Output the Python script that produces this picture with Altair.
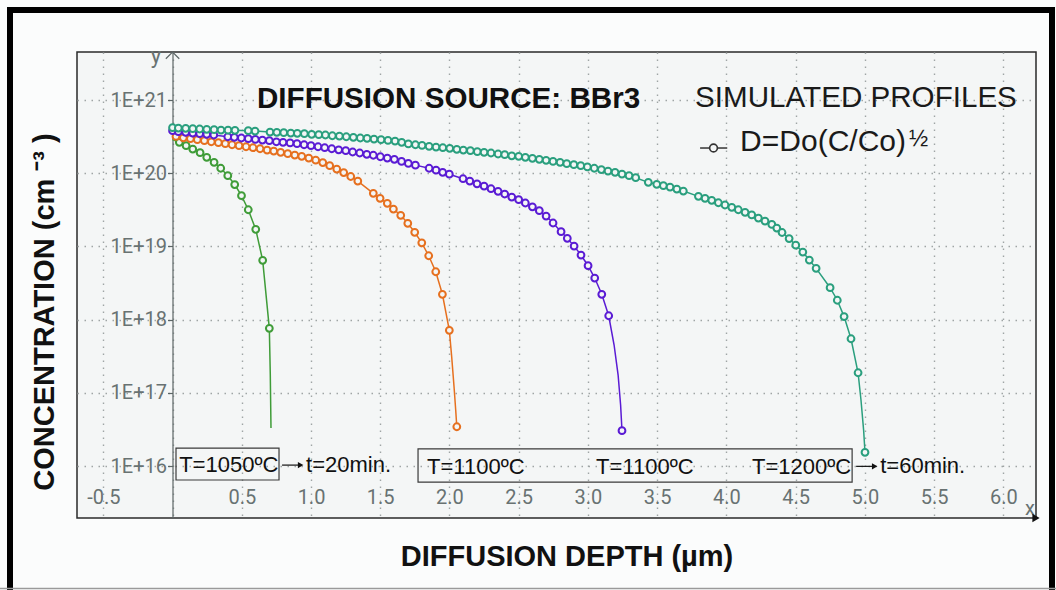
import altair as alt
import pandas as pd

# ---------------- data (depth in µm, concentration in cm^-3) -------------
# T=1200ºC, t=60 min (teal)
teal_x = [0.000, 0.042, 0.095, 0.146, 0.196, 0.247, 0.300, 0.350, 0.401, 0.451,
          0.547, 0.596, 0.704, 0.753, 0.803, 0.854, 0.901, 0.952, 1.005, 1.056,
          1.104, 1.154, 1.205, 1.255, 1.306, 1.356, 1.405, 1.455, 1.506, 1.556,
          1.607, 1.655, 1.703, 1.754, 1.802, 1.853, 1.903, 1.952, 2.002, 2.053,
          2.100, 2.151, 2.201, 2.250, 2.300, 2.351, 2.399, 2.450, 2.500, 2.548,
          2.599, 2.649, 2.698, 2.748, 2.799, 2.847, 2.898, 2.948, 2.996, 3.046,
          3.097, 3.145, 3.196, 3.246, 3.297, 3.345, 3.436, 3.497, 3.545, 3.593,
          3.642, 3.689, 3.798, 3.846, 3.894, 3.942, 3.990, 4.039, 4.086, 4.135,
          4.183, 4.231, 4.279, 4.328, 4.364, 4.402, 4.453, 4.501, 4.552, 4.599,
          4.648, 4.749, 4.801, 4.850, 4.900, 4.951, 5.001]
teal_c = [4.19e20, 4.14e20, 4.11e20, 4.06e20, 4.02e20, 3.98e20, 3.93e20, 3.89e20, 3.87e20, 3.85e20,
          3.81e20, 3.77e20, 3.65e20, 3.62e20, 3.58e20, 3.54e20, 3.51e20, 3.47e20, 3.40e20, 3.36e20,
          3.33e20, 3.25e20, 3.22e20, 3.15e20, 3.09e20, 3.03e20, 3.00e20, 2.93e20, 2.87e20, 2.81e20,
          2.75e20, 2.64e20, 2.51e20, 2.45e20, 2.40e20, 2.33e20, 2.28e20, 2.23e20, 2.19e20, 2.12e20,
          2.07e20, 2.03e20, 1.97e20, 1.93e20, 1.89e20, 1.83e20, 1.79e20, 1.73e20, 1.70e20, 1.65e20,
          1.60e20, 1.55e20, 1.50e20, 1.45e20, 1.41e20, 1.35e20, 1.31e20, 1.27e20, 1.22e20, 1.17e20,
          1.12e20, 1.07e20, 1.03e20, 9.75e19, 9.25e19, 8.69e19, 7.51e19, 7.05e19, 6.75e19, 6.47e19,
          6.08e19, 5.71e19, 4.83e19, 4.54e19, 4.27e19, 3.95e19, 3.68e19, 3.42e19, 3.17e19, 2.92e19,
          2.69e19, 2.44e19, 2.22e19, 2.00e19, 1.78e19, 1.55e19, 1.28e19, 1.04e19, 8.38e18, 6.52e18,
          5.02e18, 2.73e18, 1.84e18, 1.10e18, 5.48e17, 1.88e17, 1.54e16]
teal_line_x = [4.972, 4.991]
teal_line_c = [7.97e16, 3.10e16]

# T=1100ºC (purple)
purple_x = [0.000, 0.042, 0.095, 0.146, 0.196, 0.247, 0.298, 0.399, 0.446, 0.497,
            0.547, 0.598, 0.649, 0.699, 0.750, 0.798, 0.849, 0.899, 0.950, 1.000,
            1.051, 1.099, 1.150, 1.200, 1.251, 1.301, 1.352, 1.403, 1.450, 1.501,
            1.551, 1.602, 1.654, 1.703, 1.754, 1.853, 1.903, 1.951, 1.999, 2.098,
            2.147, 2.199, 2.250, 2.300, 2.351, 2.399, 2.450, 2.500, 2.548, 2.599,
            2.649, 2.698, 2.748, 2.806, 2.851, 2.900, 2.950, 3.001, 3.049, 3.100,
            3.150, 3.246]
purple_c = [3.81e20, 3.69e20, 3.62e20, 3.54e20, 3.47e20, 3.40e20, 3.33e20, 3.15e20, 3.09e20, 3.03e20,
            2.96e20, 2.90e20, 2.84e20, 2.78e20, 2.69e20, 2.64e20, 2.59e20, 2.53e20, 2.45e20, 2.38e20,
            2.30e20, 2.23e20, 2.16e20, 2.09e20, 2.03e20, 1.95e20, 1.89e20, 1.81e20, 1.76e20, 1.68e20,
            1.61e20, 1.55e20, 1.45e20, 1.36e20, 1.29e20, 1.17e20, 1.10e20, 1.03e20, 9.69e19, 8.41e19,
            7.82e19, 7.16e19, 6.68e19, 6.14e19, 5.66e19, 5.20e19, 4.73e19, 4.35e19, 3.92e19, 3.48e19,
            3.08e19, 2.60e19, 2.09e19, 1.59e19, 1.29e19, 1.01e19, 7.63e18, 5.45e18, 3.70e18, 2.22e18,
            1.13e18, 3.04e16]
purple_line_x = [3.189, 3.218, 3.236]
purple_line_c = [4.50e17, 1.75e17, 6.81e16]

# T=1100ºC (orange)
orange_x = [0.025, 0.078, 0.129, 0.179, 0.230, 0.280, 0.331, 0.381, 0.430, 0.480,
            0.531, 0.581, 0.632, 0.683, 0.731, 0.781, 0.832, 0.883, 0.933, 0.984,
            1.034, 1.085, 1.135, 1.186, 1.236, 1.287, 1.338, 1.450, 1.499, 1.551,
            1.595, 1.648, 1.699, 1.749, 1.800, 1.850, 1.901, 1.949, 1.999, 2.053]
orange_c = [3.18e20, 3.05e20, 2.96e20, 2.87e20, 2.78e20, 2.69e20, 2.61e20, 2.53e20, 2.45e20, 2.38e20,
            2.30e20, 2.23e20, 2.16e20, 2.07e20, 2.01e20, 1.93e20, 1.85e20, 1.77e20, 1.70e20, 1.61e20,
            1.51e20, 1.40e20, 1.27e20, 1.14e20, 1.02e20, 9.02e19, 7.82e19, 5.31e19, 4.54e19, 3.88e19,
            3.24e19, 2.66e19, 2.07e19, 1.56e19, 1.12e19, 7.46e18, 4.51e18, 2.22e18, 7.14e17, 3.44e16]
orange_line_x = [2.016, 2.033, 2.045]
orange_line_c = [3.11e17, 1.21e17, 5.82e16]

# T=1050ºC, t=20 min (green)
green_x = [0.049, 0.098, 0.146, 0.199, 0.247, 0.300, 0.348, 0.399, 0.449, 0.498,
           0.547, 0.601, 0.651, 0.699]
green_c = [2.64e20, 2.38e20, 2.14e20, 1.91e20, 1.65e20, 1.41e20, 1.17e20, 9.25e19, 7.01e19, 4.93e19,
           3.17e19, 1.71e19, 6.46e18, 7.61e17]
green_line_x = [0.000, 0.706, 0.711]
green_line_c = [2.89e20, 1.75e17, 3.30e16]

series_names = ["T1050", "T1100a", "T1100b", "T1200"]
series_colors = ["#3f9c38", "#e6701f", "#5a1bd4", "#2a9f7e"]

x_ticks = [-0.5, 0.0, 0.5, 1.0, 1.5, 2.0, 2.5, 3.0, 3.5, 4.0, 4.5, 5.0, 5.5, 6.0]
y_ticks = [1e16, 1e17, 1e18, 1e19, 1e20, 1e21]
X_DOMAIN = [-0.690, 6.236]
Y_DOMAIN = [1.95e15, 4.53e21]

# ---------------- tables ----------------
def tab(name, xs, cs):
    return pd.DataFrame({"x": xs, "c": cs, "s": name})

pts = pd.concat([tab("T1050", green_x, green_c), tab("T1100a", orange_x, orange_c),
                 tab("T1100b", purple_x, purple_c), tab("T1200", teal_x, teal_c)])
lines = pd.concat([pts,
                   tab("T1050", green_line_x, green_line_c), tab("T1100a", orange_line_x, orange_line_c),
                   tab("T1100b", purple_line_x, purple_line_c), tab("T1200", teal_line_x, teal_line_c)])
lines = lines.sort_values(["s", "x"]).reset_index(drop=True)

PLOT_BG = "#f4f6f6"
LABEL_GRAY = "#687272"
GRID = "#9fa5a5"

xscale = alt.Scale(domain=X_DOMAIN, nice=False, zero=False)
yscale = alt.Scale(type="log", domain=Y_DOMAIN, nice=False)

xaxis = alt.Axis(values=x_ticks, grid=True, gridColor=GRID, gridDash=[1.5, 5.5], gridWidth=1.4,
                 domain=False, ticks=False, tickSize=0, labelPadding=-21, labelBaseline="middle",
                 labelFont="Roboto", labelFontSize=20, labelColor=LABEL_GRAY, labelFlush=False,
                 labelOverlap=False, labelBound=False,
                 labelExpr="datum.value == 0 ? '' : replace(format(datum.value, '.1f'), '\u2212', '-')",
                 title=None)
yaxis = alt.Axis(values=y_ticks, grid=True, gridColor=GRID, gridDash=[1.5, 5.5], gridWidth=1.4,
                 domain=True, domainColor="#5b6565", domainWidth=1.2, ticks=True, tickSize=5,
                 tickColor="#5b6565", tickWidth=1.2, offset=-95.5, labelPadding=1,
                 labelAlign="right", labelBaseline="middle", labelFont="Roboto", labelFontSize=20,
                 labelColor=LABEL_GRAY, labelFlush=False, labelOverlap=False, labelBound=False,
                 labelExpr="'1E+' + format(log(datum.value) / LN10, '.0f')", title=None)

X = alt.X("x:Q", scale=xscale, axis=xaxis)
Y = alt.Y("c:Q", scale=yscale, axis=yaxis)
COLOR = alt.Color("s:N", scale=alt.Scale(domain=series_names, range=series_colors), legend=None)

line_layer = alt.Chart(lines).mark_line(strokeWidth=1.5).encode(x=X, y=Y, color=COLOR, order="x:Q")
point_layer = alt.Chart(pts).mark_point(shape="circle", size=46, strokeWidth=2.0, fill=PLOT_BG,
                                        fillOpacity=1, opacity=1).encode(x=X, y=Y, color=COLOR)

# ---------------- annotations (data coordinates) ----------------
boxes = pd.DataFrame({"x": [0.025, 1.773], "x2": [0.769, 4.908],
                      "c": [6.44e15, 6.04e15], "c2": [1.76e16, 1.71e16]})
box_layer = alt.Chart(boxes).mark_rect(fillOpacity=0, stroke="#3a3a3a", strokeWidth=1.2).encode(
    x=X, x2="x2:Q", y=Y, y2="c2:Q")

ann = pd.DataFrame({"x": [0.048, 0.964, 1.838, 3.059, 4.185, 5.111],
                    "c": [1.03e16, 1.03e16, 9.6e15, 9.6e15, 9.6e15, 9.9e15],
                    "t": ["T=1050ºC", "t=20min.", "T=1100ºC", "T=1100ºC", "T=1200ºC", "t=60min."]})
ann_layer = alt.Chart(ann).mark_text(align="left", baseline="middle", font="Liberation Sans",
                                     fontSize=22, color="#111111").encode(x=X, y=Y, text="t:N")

arrows = pd.DataFrame({"x": [0.791, 4.937], "x2": [0.925, 5.071], "c": [1.03e16, 9.9e15]})
arrow_rule = alt.Chart(arrows).mark_rule(color="#111111", strokeWidth=1.2).encode(x=X, x2="x2:Q", y=Y)
arrow_head = alt.Chart(arrows).mark_point(shape="triangle-right", filled=True, size=40,
                                          color="#111111", opacity=1).encode(
    x=alt.X("x2:Q", scale=xscale, axis=xaxis), y=Y)

t1 = pd.DataFrame({"x": [0.610], "c": [7.78e20], "t": ["DIFFUSION SOURCE: BBr3"]})
t1_layer = alt.Chart(t1).mark_text(align="left", baseline="alphabetic", font="Liberation Sans",
                                   fontWeight="bold", fontSize=29.6, color="#111111").encode(
    x=X, y=Y, text="t:N")
t2 = pd.DataFrame({"x": [3.774], "c": [8.0e20], "t": ["SIMULATED PROFILES"]})
t2_layer = alt.Chart(t2).mark_text(align="left", baseline="alphabetic", font="Liberation Sans",
                                   fontSize=29.6, color="#1a1a1a").encode(x=X, y=Y, text="t:N")
leg = pd.DataFrame({"x": [4.099], "c": [2.01e20], "t": ["D=Do(C/Co)"]})
leg_layer = alt.Chart(leg).mark_text(align="left", baseline="alphabetic", font="Liberation Sans",
                                     fontSize=30, color="#1a1a1a").encode(x=X, y=Y, text="t:N")
half = pd.DataFrame({"x": [5.318], "c": [2.38e20], "t": ["½"]})
half_layer = alt.Chart(half).mark_text(align="left", baseline="alphabetic", font="Liberation Sans",
                                       fontSize=23, color="#1a1a1a").encode(x=X, y=Y, text="t:N")
leg_line = pd.DataFrame({"x": [3.81], "x2": [4.006], "c": [2.21e20]})
leg_rule = alt.Chart(leg_line).mark_rule(color="#333333", strokeWidth=1.5).encode(x=X, x2="x2:Q", y=Y)
leg_pt = pd.DataFrame({"x": [3.907], "c": [2.21e20]})
leg_pt_layer = alt.Chart(leg_pt).mark_point(shape="circle", size=60, strokeWidth=1.6, color="#333333",
                                            fill=PLOT_BG, fillOpacity=1, opacity=1).encode(x=X, y=Y)

ylab = pd.DataFrame({"x": [-0.119], "c": [3.16e21], "t": ["y"]})
ylab_layer = alt.Chart(ylab).mark_text(align="center", baseline="alphabetic", font="Roboto",
                                       fontSize=22, color=LABEL_GRAY).encode(x=X, y=Y, text="t:N")
xlab = pd.DataFrame({"x": [6.157], "c": [2.14e15], "t": ["x"]})
xlab_layer = alt.Chart(xlab).mark_text(align="left", baseline="alphabetic", font="Roboto",
                                       fontSize=20, color=LABEL_GRAY).encode(x=X, y=Y, text="t:N")
yarrow = pd.DataFrame({"x": [0.0], "c": [Y_DOMAIN[1]]})
yarrow_layer = alt.Chart(yarrow).mark_point(shape="M-1,1L0,0L1,1", size=180, strokeWidth=1.2,
                                            color="#5b6565", opacity=1).encode(x=X, y=Y)
xarrow = pd.DataFrame({"x": [X_DOMAIN[1]], "c": [Y_DOMAIN[0]]})
xarrow_layer = alt.Chart(xarrow).mark_point(shape="triangle-right", filled=True, size=70,
                                            color="#111111", opacity=1).encode(x=X, y=Y)

# ---------------- outer decorations (pixel positions relative to plot area) ----------------
one = pd.DataFrame({"a": [0]})
outer = alt.Chart(one).mark_rect(fillOpacity=0, stroke="#000000", strokeWidth=6).encode(
    x=alt.value(-67), x2=alt.value(975), y=alt.value(-42), y2=alt.value(600))
bottom_line = alt.Chart(one).mark_rule(color="#9a9a9a", strokeWidth=1.5).encode(
    x=alt.value(-77), x2=alt.value(979), y=alt.value(536.5))
ytitle = alt.Chart(pd.DataFrame({"t": ["CONCENTRATION (cm \u207b\u00b3 )"]})).mark_text(
    angle=270, align="center", baseline="middle", font="Liberation Sans", fontWeight="bold",
    fontSize=29, color="#111111").encode(x=alt.value(-32), y=alt.value(260), text="t:N")
xtitle = alt.Chart(pd.DataFrame({"t": ["DIFFUSION DEPTH (µm)"]})).mark_text(
    align="center", baseline="middle", font="Liberation Sans", fontWeight="bold",
    fontSize=29, color="#111111").encode(x=alt.value(490), y=alt.value(505), text="t:N")

chart = alt.layer(
    line_layer, point_layer, box_layer, ann_layer, arrow_rule, arrow_head,
    t1_layer, t2_layer, leg_layer, half_layer, leg_rule, leg_pt_layer,
    ylab_layer, xlab_layer, yarrow_layer, xarrow_layer,
    outer, bottom_line, ytitle, xtitle,
).properties(
    width=959, height=466,
    padding={"left": 77, "top": 52, "right": 20, "bottom": 72},
    autosize=alt.AutoSizeParams(type="none"),
    background="#fbfcfc",
).configure_view(fill=PLOT_BG, stroke="#2a2a2a", strokeWidth=1.5)

chart.save("out.html", embed_options={"renderer": "svg", "actions": False})
